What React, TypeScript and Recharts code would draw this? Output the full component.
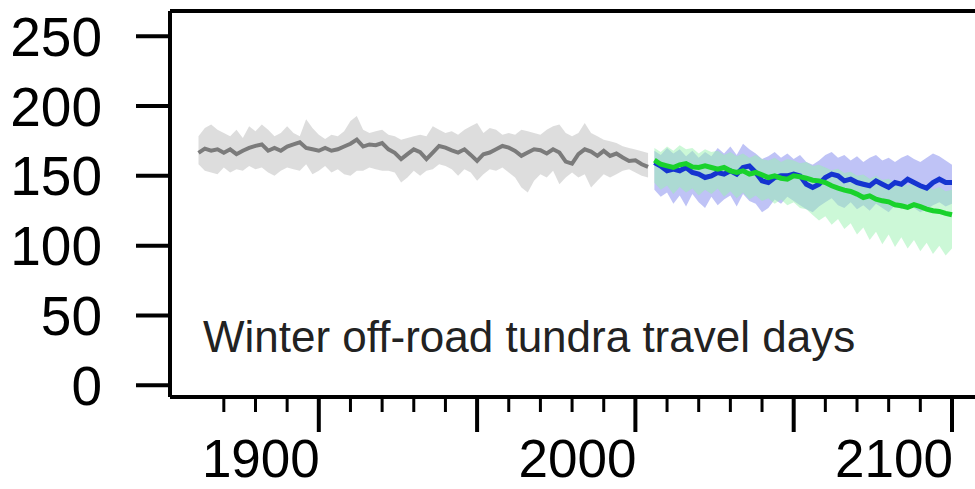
import React from 'react';
import { ComposedChart, Line, Area, XAxis, YAxis, ReferenceLine } from 'recharts';

const histYears = [
  1862, 1864, 1866, 1868, 1870, 1872, 1874, 1876, 1878, 1880, 1882, 1884, 1886, 1888, 1890, 1892, 1894, 1896,
  1898, 1900, 1902, 1904, 1906, 1908, 1910, 1912, 1914, 1916, 1918, 1920, 1922, 1924, 1926, 1928, 1930, 1932,
  1934, 1936, 1938, 1940, 1942, 1944, 1946, 1948, 1950, 1952, 1954, 1956, 1958, 1960, 1962, 1964, 1966, 1968,
  1970, 1972, 1974, 1976, 1978, 1980, 1982, 1984, 1986, 1988, 1990, 1992, 1994, 1996, 1998, 2000, 2002, 2004,
];

const histMean = [
  166.5, 169.5, 168, 169, 166.5, 169, 165.5, 168, 170, 171.5, 172.5, 168, 170, 168, 171, 172.5, 174, 170,
  169, 168, 170, 168, 169, 171, 173, 176, 171, 172.5, 172, 173.5, 169, 166.5, 162, 165.5, 169, 167,
  162, 166.7, 171.4, 170.2, 168.3, 166.7, 169, 165, 160.7, 165.5, 166.7, 169, 171.4, 170.2, 167.9, 164.3, 166.7, 169,
  168.3, 166, 169, 166.7, 160.2, 158.8, 165.5, 169, 167.4, 164.3, 167.9, 164.3, 166, 163.1, 160.7, 161.2, 158.3, 156.4,
];

const histLow = [
  158.3, 153.6, 152.4, 151.2, 155.9, 152.4, 154.8, 153.6, 157.1, 154.8, 155.9, 152.4, 150, 153.6, 155.9, 154.8, 153.6, 158.3,
  151.2, 153.6, 157.1, 152.4, 154.8, 151.2, 150, 153.6, 153.6, 155.9, 154.8, 153.6, 153.6, 152.4, 145.2, 148.8, 153.6, 150,
  153.6, 154.8, 158.3, 157.1, 154.8, 150, 154.8, 152.4, 146.4, 151.2, 154.8, 153.6, 155.9, 152.4, 148.8, 141.7, 138.1, 146.4,
  151.2, 148.8, 153.6, 144, 148.8, 152.4, 148.8, 151.2, 141.7, 146.4, 151.2, 148.8, 151.2, 153.6, 154.8, 152.4, 150, 148.8,
];

const histHigh = [
  178.3, 184.3, 186.7, 183.1, 180.7, 178.3, 183.1, 177.1, 185.5, 181.9, 186.7, 183.1, 178.3, 180.7, 185.5, 180.7, 178.3, 190.5,
  184.3, 179.5, 176.4, 179.5, 178.3, 181.9, 189.3, 192.9, 183.1, 180.7, 181.9, 183.1, 179.5, 178.3, 175.9, 177.1, 178.3, 179.5,
  178.3, 185.5, 183.1, 180.7, 181.9, 179.5, 183.1, 185.5, 187.9, 180.7, 184.3, 183.1, 179.5, 180.7, 179.5, 183.1, 181.9, 180.7,
  179.5, 183.1, 185.5, 186.7, 180.7, 178.3, 180.7, 187.9, 180.7, 178.3, 175.9, 174.8, 173.6, 171.2, 170, 168.8, 167.6, 166.4,
];

const projYears = [
  2006, 2008, 2010, 2012, 2014, 2016, 2018, 2020, 2022, 2024, 2026, 2028, 2030, 2032, 2034, 2036,
  2038, 2040, 2042, 2044, 2046, 2048, 2050, 2052, 2054, 2056, 2058, 2060, 2062, 2064, 2066, 2068,
  2070, 2072, 2074, 2076, 2078, 2080, 2082, 2084, 2086, 2088, 2090, 2092, 2094, 2096, 2098, 2100,
];

const blueMean = [
  159.5, 157.1, 153.6, 154.8, 153.6, 156, 152.4, 151.2, 148.8, 150, 152.4, 151.2, 153.6, 151.2, 156, 157.1,
  152.4, 146.4, 145.2, 148.8, 150, 150, 151.2, 150, 144, 141.7, 144, 148.8, 151.2, 150, 146.4, 147.6,
  145.2, 144, 142.9, 146.4, 144, 141.7, 145.2, 144, 147.6, 145.2, 142.9, 141.2, 145.2, 147.6, 145.2, 145.2,
];
const blueLow = [
  140, 135, 138, 130, 136, 128, 137, 131, 127, 135, 129, 133, 136, 128, 137, 132,
  130, 124, 127, 133, 130, 135, 132, 129, 126, 124, 128, 131, 134, 129, 127, 131,
  126, 129, 125, 130, 127, 124, 129, 126, 130, 127, 124, 126, 129, 131, 128, 130,
];
const blueHigh = [
  168, 165, 170, 166, 169, 164, 168, 163, 167, 164, 170, 166, 171, 165, 173, 169,
  166, 162, 164, 167, 163, 166, 162, 165, 160, 158, 161, 165, 167, 163, 165, 161,
  164, 160, 163, 165, 161, 163, 160, 163, 165, 162, 160, 163, 166, 164, 161, 158,
];

const greenMean = [
  161.2, 158.3, 157.1, 156, 157.9, 158.8, 156.4, 156, 157.1, 156, 154.8, 156, 153.6, 152.4, 153.6, 151.2,
  152.4, 150.7, 148.8, 150, 148.3, 147.6, 150, 149.3, 148.3, 146.9, 146.4, 145.2, 142.9, 141.2, 139.8, 138.8,
  136.9, 134.5, 135.7, 133.3, 132.1, 131.4, 129.3, 128.6, 127.4, 129.3, 127.9, 126.2, 125, 124.5, 123.1, 122.1,
];
const greenLow = [
  145, 140, 143, 137, 142, 138, 141, 136, 140, 137, 141, 135, 139, 134, 138, 133,
  136, 132, 134, 130, 133, 129, 131, 127, 126, 122, 118, 121, 115, 119, 112, 116,
  108, 113, 104, 110, 101, 108, 99, 106, 98, 104, 96, 102, 94, 100, 93, 98,
];
const greenHigh = [
  170, 167, 171, 168, 172, 169, 170, 166, 169, 167, 168, 165, 167, 164, 166, 163,
  165, 162, 161, 163, 160, 162, 161, 159, 160, 157, 158, 156, 154, 155, 152, 153,
  150, 151, 148, 150, 147, 148, 145, 146, 143, 145, 142, 143, 140, 142, 139, 140,
];

const yTicks = [0, 50, 100, 150, 200, 250];
const xTicks = [
  1870, 1880, 1890, 1900, 1910, 1920, 1930, 1940, 1950, 1960, 1970, 1980, 1990, 2000,
  2010, 2020, 2030, 2040, 2050, 2060, 2070, 2080, 2090, 2100,
];
const xMajorTicks = [1900, 1950, 2000, 2050, 2100];
const xLabels = [1900, 2000, 2100];
const title = 'Winter off-road tundra travel days';

const Y_DOMAIN: [number, number] = [-8.45, 268.1];
const X_DOMAIN: [number, number] = [1853.0, 2107.27];

const FONT = '"Liberation Sans", Arial, Helvetica, sans-serif';

const data = [
  ...histYears.map((year, i) => ({
    year,
    hMean: histMean[i],
    hBand: [histLow[i], histHigh[i]],
  })),
  ...projYears.map((year, i) => ({
    year,
    bMean: blueMean[i],
    bBand: [blueLow[i], blueHigh[i]],
    gMean: greenMean[i],
    gBand: [greenLow[i], greenHigh[i]],
  })),
];

const XTick = (props: any) => {
  const { x, y, payload } = props;
  const v = payload.value;
  const major = xMajorTicks.includes(v);
  const labeled = xLabels.includes(v);
  return (
    <g>
      <line x1={x} x2={x} y1={y} y2={y + (major ? 35 : 15)} stroke="#000" strokeWidth={major ? 4 : 3} />
      {labeled && (
        <text x={x + 1} y={y + 80} textAnchor="end" fontSize={53} fontFamily={FONT} fill="#000">
          {v}
        </text>
      )}
    </g>
  );
};

export default function App() {
  return (
    <div style={{ position: 'absolute', left: 0, top: 0, width: 975, height: 489, background: '#fff' }}>
      <ComposedChart
        width={975}
        height={489}
        data={data}
        margin={{ top: 11, right: 0, bottom: 0, left: 0 }}
      >
        <XAxis
          dataKey="year"
          type="number"
          domain={X_DOMAIN}
          allowDataOverflow
          ticks={xTicks}
          interval={0}
          height={92}
          tickSize={0}
          tickMargin={0}
          tickLine={false}
          tick={<XTick />}
          axisLine={{ stroke: '#000', strokeWidth: 4 }}
        />
        <YAxis
          type="number"
          domain={Y_DOMAIN}
          allowDataOverflow
          ticks={yTicks}
          interval={0}
          width={170}
          tickSize={34}
          tickMargin={34}
          tickLine={{ stroke: '#000', strokeWidth: 4 }}
          axisLine={{ stroke: '#000', strokeWidth: 4 }}
          tick={{ fontSize: 55, fill: '#000', fontFamily: FONT }}
        />
        <Area dataKey="hBand" stroke="none" fill="#d9d9d9" fillOpacity={0.9} isAnimationActive={false} />
        <Area dataKey="bBand" stroke="none" fill="#8a92ee" fillOpacity={0.55} isAnimationActive={false} />
        <Area dataKey="gBand" stroke="none" fill="#9af2b0" fillOpacity={0.5} isAnimationActive={false} />
        <Line dataKey="hMean" stroke="#7b7b7b" strokeWidth={4} dot={false} activeDot={false} isAnimationActive={false} />
        <Line dataKey="bMean" stroke="#1534d0" strokeWidth={5} dot={false} activeDot={false} isAnimationActive={false} />
        <Line dataKey="gMean" stroke="#19d22c" strokeWidth={5} dot={false} activeDot={false} isAnimationActive={false} />
        <ReferenceLine y={Y_DOMAIN[1]} stroke="#000" strokeWidth={4} ifOverflow="visible" />
      </ComposedChart>
      <svg
        width={975}
        height={489}
        style={{ position: 'absolute', left: 0, top: 0, pointerEvents: 'none' }}
      >
        <text x={203} y={352} fontSize={44} fontFamily={FONT} fill="#222">
          {title}
        </text>
      </svg>
    </div>
  );
}
